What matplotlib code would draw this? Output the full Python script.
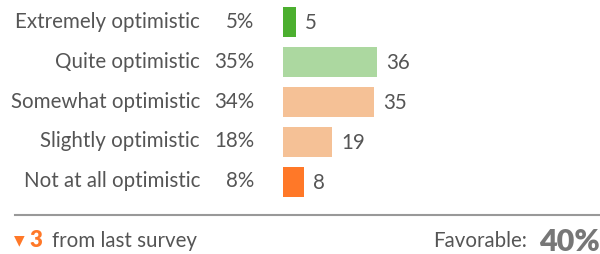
import matplotlib.pyplot as plt

categories = ["Extremely optimistic", "Quite optimistic", "Somewhat optimistic",
              "Slightly optimistic", "Not at all optimistic"]
percents = ["5%", "35%", "34%", "18%", "8%"]
counts = [5, 36, 35, 19, 8]
colors = ["#4caf2f", "#acd8a0", "#f5c196", "#f5c196", "#ff7828"]
change = 3
favorable = "40%"

W, H = 600, 255
fig = plt.figure(figsize=(W / 100, H / 100), dpi=100)
plt.rcParams['font.family'] = ['Lato', 'DejaVu Sans']

def px(x, y):
    return x / W, 1 - y / H

# bar axes: left 283px, top 3px, bottom 203px
ax = fig.add_axes([283 / W, 1 - 203 / H, (W - 283) / W, 200 / H])
ax.barh(range(len(counts)), counts, height=0.75, color=colors)
ax.set_xlim(0, (W - 283) / 2.6)
ax.set_ylim(len(counts) - 0.5, -0.5)
ax.axis("off")

txt = "#555555"
fs = 14.8
for i, (c, p, n) in enumerate(zip(categories, percents, counts)):
    ax.text(n + 3.5, i, str(n), va="center", ha="left", fontsize=fs, color=txt)
    y = 22 + i * 39.8
    fig.text(*px(200, y), c, ha="right", va="center", fontsize=fs, color=txt)
    fig.text(*px(254, y), p, ha="right", va="center", fontsize=fs, color=txt)

fig.add_artist(plt.Line2D([15 / W, 1], [1 - 216 / H] * 2, color="#999999", lw=1.5))

fig.text(*px(14, 240), "\u25bc", ha="left", va="center", fontsize=10, color="#ff7828",
         family="DejaVu Sans")
fig.text(*px(30, 241), str(change), ha="left", va="center", fontsize=16,
         fontweight="heavy", color="#ff7828")
fig.text(*px(52, 241), "from last survey", ha="left", va="center", fontsize=fs, color=txt)
fig.text(*px(527, 241), "Favorable:", ha="right", va="center", fontsize=fs, color=txt)
fig.text(*px(600, 242), favorable, ha="right", va="center", fontsize=22,
         fontweight="heavy", color="#777777")

fig.savefig("out.png", dpi=100)
